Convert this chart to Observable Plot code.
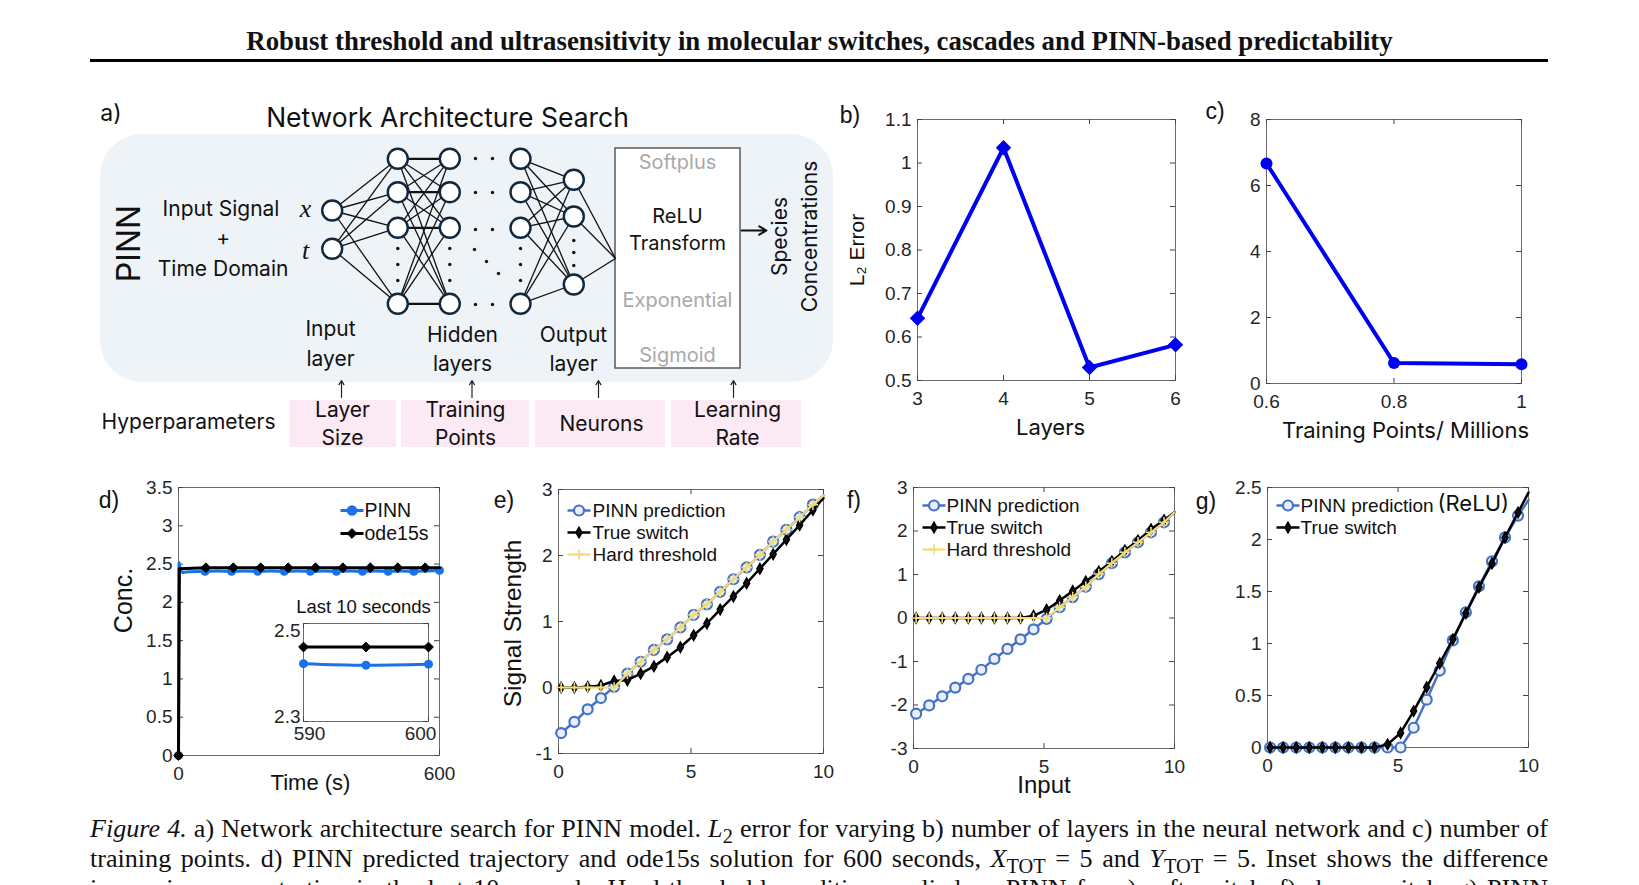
<!DOCTYPE html>
<html><head><meta charset="utf-8">
<script src="https://cdn.jsdelivr.net/npm/d3@7"></script>
<script src="https://cdn.jsdelivr.net/npm/@observablehq/plot@0.6"></script>
<style>
html,body{margin:0;padding:0;background:#fff;overflow:hidden;}
#fig{position:relative;width:1639px;height:885px;overflow:hidden;background:#fff;}
.abs{position:absolute;white-space:nowrap;line-height:1;}
.cap{position:absolute;left:90px;width:1458px;font-family:"Liberation Serif","Times New Roman",serif;color:#111;text-align:justify;text-align-last:justify;white-space:nowrap;line-height:30px;}
.cap sub{font-size:0.78em;line-height:0;}
.measure{position:absolute;visibility:hidden;white-space:nowrap;left:0;top:0;}
</style></head><body><div id="fig"></div>
<script>
// ---------------- data ----------------
// b) L2 error vs number of layers
const layerCount = [3, 4, 5, 6];
const layerL2Error = [0.643, 1.035, 0.530, 0.582];
// c) L2 error vs training points (millions)
const trainingPoints = [0.6, 0.8, 1.0];
const trainingL2Error = [6.67, 0.62, 0.58];
// d) trajectory over 600 s
const odeLineT = [0, 2, 63, 126, 189, 252, 315, 378, 441, 504, 567, 600];
const odeLineC = [0, 2.44, 2.452, 2.452, 2.452, 2.452, 2.452, 2.452, 2.452, 2.452, 2.452, 2.452];
const odeMarkT = [0, 63, 126, 189, 252, 315, 378, 441, 504, 567];
const odeMarkC = [0, 2.452, 2.452, 2.452, 2.452, 2.452, 2.452, 2.452, 2.452, 2.452];
const pinnLineT = [0, 1, 4, 10, 25, 61, 91, 122, 152, 182, 212, 243, 273, 303, 333, 363, 393, 423, 452, 482, 511, 541, 570, 600];
const pinnLineC = [0, 2.52, 2.44, 2.39, 2.40, 2.405, 2.41, 2.405, 2.41, 2.405, 2.41, 2.405, 2.41, 2.405, 2.41, 2.405, 2.41, 2.405, 2.41, 2.405, 2.41, 2.405, 2.41, 2.417];
const pinnMarkT = [0, 61, 122, 182, 243, 303, 363, 423, 482, 541, 600];
const pinnMarkC = [0, 2.405, 2.405, 2.405, 2.405, 2.405, 2.405, 2.405, 2.405, 2.405, 2.417];
// d) inset: last 10 seconds
const insetT = [590, 595, 600];
const insetOde = [2.452, 2.452, 2.452];
const insetPinn = [2.418, 2.415, 2.417];
// e), f), g) switch responses (last point = end of line, no marker)
const switchInput = [0.1, 0.6, 1.1, 1.6, 2.1, 2.6, 3.1, 3.6, 4.1, 4.6, 5.1, 5.6, 6.1, 6.6, 7.1, 7.6, 8.1, 8.6, 9.1, 9.6, 10];
const softPinn = [-0.69, -0.52, -0.33, -0.16, 0.01, 0.21, 0.39, 0.57, 0.73, 0.91, 1.10, 1.26, 1.45, 1.64, 1.82, 2.01, 2.21, 2.39, 2.58, 2.77, 2.91];
const softTrue = [0.00, 0.00, 0.01, 0.03, 0.10, 0.11, 0.21, 0.32, 0.46, 0.61, 0.79, 0.97, 1.18, 1.38, 1.58, 1.80, 2.02, 2.24, 2.46, 2.69, 2.87];
const softHard = [0, 0, 0, 0, 0, 0.21, 0.39, 0.57, 0.73, 0.91, 1.10, 1.26, 1.45, 1.64, 1.82, 2.01, 2.21, 2.39, 2.58, 2.77, 2.91];
const sharpPinn = [-2.20, -2.01, -1.80, -1.60, -1.40, -1.19, -0.94, -0.71, -0.49, -0.26, -0.02, 0.25, 0.48, 0.72, 1.01, 1.26, 1.51, 1.74, 1.97, 2.20, 2.43];
const sharpTrue = [0, 0, 0, 0, 0, 0, 0, 0, 0, 0.05, 0.19, 0.40, 0.62, 0.84, 1.07, 1.30, 1.55, 1.78, 2.04, 2.25, 2.43];
const sharpHard = [0, 0, 0, 0, 0, 0, 0, 0, 0, 0, 0, 0.25, 0.48, 0.72, 1.01, 1.26, 1.51, 1.74, 1.97, 2.20, 2.43];
const reluPinn = [0, 0, 0, 0, 0, 0, 0, 0, 0, 0, 0, 0.19, 0.46, 0.74, 1.03, 1.30, 1.55, 1.79, 2.02, 2.23, 2.38];
const reluTrue = [0, 0, 0, 0, 0, 0, 0, 0, 0, 0.03, 0.14, 0.35, 0.58, 0.81, 1.04, 1.29, 1.54, 1.77, 2.02, 2.26, 2.45];
// tick labels
const bXTicks = [3, 4, 5, 6], bYTicks = [0.5, 0.6, 0.7, 0.8, 0.9, 1, 1.1];
const cXTicks = [0.6, 0.8, 1], cYTicks = [0, 2, 4, 6, 8];
const dXTicks = [0, 600], dYTicks = [0, 0.5, 1, 1.5, 2, 2.5, 3, 3.5];
const eYTicks = [-1, 0, 1, 2, 3], fYTicks = [-3, -2, -1, 0, 1, 2, 3], gYTicks = [0, 0.5, 1, 1.5, 2, 2.5];
const inputTicks = [0, 5, 10];

// ---------------- diagram layout (schematic, panel a) ----------------
const netLayers = [
  {x: 331.7, y: [210, 248.3]},
  {x: 397.3, y: [158.3, 191.7, 227.3, 303.3]},
  {x: 449.3, y: [158.3, 191.7, 227.3, 303.3]},
  {x: 520, y: [158.3, 191.7, 227.3, 303.3]},
  {x: 573.3, y: [179.3, 216, 284]}
];
const netConnections = [[0, 1], [1, 2], [3, 4]];
const netOutlet = {x: 615, y: 258};
const netEllipsis = [
  [397.3,248],[397.3,264],[397.3,280],[449.3,248],[449.3,264],[449.3,280],
  [520,248],[520,264],[520,280],[573.3,240],[573.3,252],[573.3,265],
  [475,158],[492,158],[475,192],[492,192],[475,229],[492,229],[475,304],[492,304],
  [474,249],[486,261],[498,273]
];

const fig = document.getElementById("fig");
const SANS = "'Liberation Sans', Arial, sans-serif";
const APTOS = "Inter, 'Noto Sans', sans-serif";
const SERIF = "'Liberation Serif','Times New Roman',serif";
const fmt = d => String(d);

function put(el, left, top) {
  el.style.position = "absolute"; el.style.left = left + "px"; el.style.top = top + "px";
  el.style.maxWidth = "none"; el.style.background = "transparent"; el.style.overflow = "visible";
  fig.appendChild(el);
}
function label(html, cx, cy, o = {}) {
  const d = document.createElement("div");
  d.className = "abs"; d.innerHTML = html;
  d.style.left = cx + "px"; d.style.top = cy + "px";
  d.style.transform = `translate(-50%,-50%) rotate(${o.rotate || 0}deg)`;
  d.style.fontFamily = o.family || SANS; d.style.fontSize = (o.size || 23) + "px";
  d.style.fontWeight = o.weight || 400; d.style.color = o.color || "#111";
  fig.appendChild(d); return d;
}
function fitSize(html, family, weight, target) {
  const s = document.createElement("span");
  s.className = "measure"; s.innerHTML = html;
  s.style.fontFamily = family; s.style.fontWeight = weight; s.style.fontSize = "100px";
  document.body.appendChild(s);
  const w = s.getBoundingClientRect().width;
  s.remove();
  return 100 * target / w;
}

// custom legend line symbol
const lineSym = {draw(ctx) { ctx.moveTo(-11.5, 0); ctx.lineTo(11.5, 0); }};
function legend(items, {dxLine, dxText, dy0, step, fontSize = 19}) {
  const marks = [];
  items.forEach((it, i) => {
    const dy = dy0 + i * step;
    marks.push(Plot.dot([0], {x: null, y: null, frameAnchor: "top-left", dx: dxLine, dy, symbol: lineSym, stroke: it.stroke, strokeWidth: it.lw, fill: "none"}));
    marks.push(Plot.dot([0], {x: null, y: null, frameAnchor: "top-left", dx: dxLine, dy, symbol: it.symbol, r: it.r, fill: it.fill, stroke: it.mstroke || it.stroke, strokeWidth: it.msw || 1.5}));
    marks.push(Plot.text([it.label], {x: null, y: null, text: d => d, frameAnchor: "top-left", dx: dxText, dy, textAnchor: "start", lineAnchor: "middle", fontSize, fill: "#111"}));
  });
  return marks;
}

function chart(frame, o) {
  const [x0, y0, x1, y1] = frame;
  const w = x1 - x0, h = y1 - y0;
  const ml = 90, mr = 50, mt = 50, mb = 60;
  const marks = [
    Plot.frame({fill: o.fillFrame || "none", stroke: "#6b6b6b", strokeWidth: 1}),
    Plot.tickX(o.xTicks, {x: d => d, insetTop: h - 5, stroke: "#444"}),
    Plot.tickX(o.xTicks, {x: d => d, insetBottom: h - 5, stroke: "#444"}),
    Plot.tickY(o.yTicks, {y: d => d, insetRight: w - 5, stroke: "#444"}),
    Plot.tickY(o.yTicks, {y: d => d, insetLeft: w - 5, stroke: "#444"}),
    o.noXLabels ? null : Plot.axisX({ticks: o.xTicks, tickSize: 0, tickPadding: 11, tickFormat: fmt, label: null, fontSize: 19}),
    o.noYLabels ? null : Plot.axisY({ticks: o.yTicks, tickSize: 0, tickPadding: 6, tickFormat: fmt, label: null, fontSize: 19}),
    ...o.marks
  ];
  const svg = Plot.plot({
    width: w + ml + mr, height: h + mt + mb,
    marginLeft: ml, marginRight: mr, marginTop: mt, marginBottom: mb,
    x: {domain: o.x, label: null, axis: null}, y: {domain: o.y, label: null, axis: null},
    style: {fontFamily: SANS, fontSize: "19px", color: "#262626"},
    marks
  });
  put(svg, x0 - ml, y0 - mt);
  return svg;
}
const rows = (xs, ys) => xs.map((x, i) => ({x, y: ys[i]}));
const markerRows = (xs, ys) => rows(xs, ys).slice(0, -1);
const axisTitle = (t, o) => Plot.text([t], {x: null, y: null, text: d => d, textAnchor: "middle", lineAnchor: "middle", fill: "#111", ...o});

// ---------------- panel a: network diagram ----------------
const nodes = netLayers.flatMap((L, li) => L.y.map(y => ({x: L.x, y, li})));
const links = [];
netConnections.forEach(([a, b]) => netLayers[a].y.forEach(ya => netLayers[b].y.forEach(yb =>
  links.push({x1: netLayers[a].x, y1: ya, x2: netLayers[b].x, y2: yb, w: ya === yb && a === 1 ? 2.2 : 1.3}))));
netLayers[4].y.forEach(y => links.push({x1: netLayers[4].x, y1: y, x2: netOutlet.x, y2: netOutlet.y, w: 1.3}));

const blackTexts = [
  {t: "Network Architecture Search", x: 447, y: 118, s: 26.5},
  {t: "Input Signal", x: 220.5, y: 209, s: 21},
  {t: "+", x: 222.6, y: 238, s: 21},
  {t: "Time Domain", x: 222.6, y: 268.6, s: 21},
  {t: "ReLU", x: 677, y: 216, s: 20}, {t: "Transform", x: 677, y: 243.5, s: 20},
  {t: "Input", x: 330, y: 329, s: 21}, {t: "layer", x: 330, y: 358.5, s: 21},
  {t: "Hidden", x: 462, y: 334.5, s: 21}, {t: "layers", x: 462, y: 364, s: 21},
  {t: "Output", x: 573, y: 334.5, s: 21}, {t: "layer", x: 573, y: 364, s: 21},
  {t: "Hyperparameters", x: 188, y: 422, s: 21},
  {t: "Layer", x: 342, y: 410, s: 21}, {t: "Size", x: 342, y: 438, s: 21},
  {t: "Training", x: 465, y: 410, s: 21}, {t: "Points", x: 465, y: 438, s: 21},
  {t: "Neurons", x: 601, y: 424, s: 21},
  {t: "Learning", x: 737, y: 410, s: 21}, {t: "Rate", x: 737, y: 438, s: 21}
];
const grayTexts = [
  {t: "Softplus", x: 677, y: 162}, {t: "Exponential", x: 677, y: 300}, {t: "Sigmoid", x: 677, y: 355.5}
];
const rotTexts = [
  {t: "PINN", x: 129, y: 243, s: 32},
  {t: "Species", x: 780, y: 236, s: 21},
  {t: "Concentrations", x: 810, y: 236, s: 21}
];
const varTexts = [{t: "x", x: 305, y: 208}, {t: "t", x: 305, y: 250}];
const hyperBoxes = [
  {x1: 289.5, x2: 396, y1: 400, y2: 447}, {x1: 401, x2: 529, y1: 400, y2: 447},
  {x1: 535, x2: 665, y1: 400, y2: 447}, {x1: 671, x2: 801, y1: 400, y2: 447}
];
const upArrows = [341, 471.5, 598, 733].map(x => ({x1: x, y1: 397, x2: x, y2: 380}));

const diagram = Plot.plot({
  width: 760, height: 380, margin: 0,
  x: {domain: [90, 850], axis: null}, y: {domain: [465, 85], axis: null},
  style: {fontFamily: APTOS, color: "#111"},
  marks: [
    Plot.rect([{x1: 100, x2: 833, y1: 134, y2: 382}], {x1: "x1", x2: "x2", y1: "y1", y2: "y2", fill: "#eef3f8", rx: 42, ry: 42}),
    Plot.rect(hyperBoxes, {x1: "x1", x2: "x2", y1: "y1", y2: "y2", fill: "#fbe9f3"}),
    Plot.rect([{x1: 615, x2: 740, y1: 148, y2: 368}], {x1: "x1", x2: "x2", y1: "y1", y2: "y2", fill: "white", stroke: "#5a5a5a", strokeWidth: 1.5}),
    Plot.link(links, {x1: "x1", y1: "y1", x2: "x2", y2: "y2", stroke: "#111", strokeWidth: "w"}),
    Plot.dot(nodes, {x: "x", y: "y", r: 10, fill: "white", stroke: "#10283f", strokeWidth: 2.4}),
    Plot.dot(netEllipsis, {x: d => d[0], y: d => d[1], r: 1.7, fill: "#111"}),
    Plot.arrow(upArrows, {x1: "x1", y1: "y1", x2: "x2", y2: "y2", stroke: "#222", strokeWidth: 1.2, headLength: 6}),
    Plot.arrow([{x1: 741, y1: 230, x2: 766, y2: 230}], {x1: "x1", y1: "y1", x2: "x2", y2: "y2", stroke: "#111", strokeWidth: 2, headLength: 8}),
    Plot.text(blackTexts, {x: "x", y: "y", text: "t", fontSize: "s", fill: "#111"}),
    Plot.text(grayTexts, {x: "x", y: "y", text: "t", fontSize: 20, fill: "#a9a9a9"}),
    Plot.text(rotTexts, {x: "x", y: "y", text: "t", fontSize: "s", rotate: -90, fill: "#111"}),
    Plot.text(varTexts, {x: "x", y: "y", text: "t", fontSize: 26, fontStyle: "italic", fontFamily: SERIF, fill: "#111"})
  ]
});
put(diagram, 90, 85);

// ---------------- panel b ----------------
const bData = rows(layerCount, layerL2Error);
chart([917, 119, 1175, 380], {
  x: [3, 6], y: [0.5, 1.1], xTicks: bXTicks, yTicks: bYTicks,
  marks: [
    Plot.line(bData, {x: "x", y: "y", stroke: "#0000f0", strokeWidth: 4}),
    Plot.dot(bData, {x: "x", y: "y", symbol: "diamond2", r: 6, fill: "#0000f0", stroke: "#0000f0", strokeWidth: 1.5}),
    axisTitle("L₂ Error", {frameAnchor: "left", dx: -60, rotate: -90, fontSize: 21}),
    axisTitle("Layers", {frameAnchor: "bottom", dx: 4, dy: 47, fontSize: 22, fontFamily: APTOS})
  ]
});

// ---------------- panel c ----------------
const cData = rows(trainingPoints, trainingL2Error);
chart([1266, 119, 1521, 383], {
  x: [0.6, 1], y: [0, 8], xTicks: cXTicks, yTicks: cYTicks,
  marks: [
    Plot.line(cData, {x: "x", y: "y", stroke: "#0000f0", strokeWidth: 4}),
    Plot.dot(cData, {x: "x", y: "y", r: 6, fill: "#0000f0"}),
    axisTitle("Training Points/ Millions", {frameAnchor: "bottom", dx: 11.5, dy: 47, fontSize: 22, fontFamily: APTOS})
  ]
});

// ---------------- panel d ----------------
const dBlue = "#1a72ea";
chart([178, 487, 439, 755], {
  x: [0, 600], y: [0, 3.5], xTicks: dXTicks, yTicks: dYTicks,
  marks: [
    Plot.line(rows(pinnLineT, pinnLineC), {x: "x", y: "y", stroke: dBlue, strokeWidth: 3, curve: "monotone-x"}),
    Plot.dot(rows(pinnMarkT, pinnMarkC), {x: "x", y: "y", r: 4.5, fill: dBlue}),
    Plot.line(rows(odeLineT, odeLineC), {x: "x", y: "y", stroke: "#000", strokeWidth: 3}),
    Plot.dot(rows(odeMarkT, odeMarkC), {x: "x", y: "y", symbol: "diamond2", r: 4.4, fill: "#000", stroke: "#000", strokeWidth: 1}),
    ...legend([
      {label: "PINN", stroke: dBlue, lw: 3, symbol: "circle", r: 4.5, fill: dBlue, msw: 0},
      {label: "ode15s", stroke: "#000", lw: 3, symbol: "diamond2", r: 4.4, fill: "#000", msw: 1}
    ], {dxLine: 173.5, dxText: 186, dy0: 23, step: 23, fontSize: 19.5}),
    axisTitle("Conc.", {frameAnchor: "left", dx: -55, dy: -21, rotate: -90, fontSize: 25}),
    axisTitle("Time (s)", {frameAnchor: "bottom", dx: 1.5, dy: 27, fontSize: 22})
  ]
});
// inset
chart([303, 623, 428, 721], {
  x: [590, 600], y: [2.3, 2.5], xTicks: [590, 600], yTicks: [2.3, 2.5], noXLabels: true, noYLabels: true, fillFrame: "white",
  marks: [
    Plot.line(rows(insetT, insetPinn), {x: "x", y: "y", stroke: dBlue, strokeWidth: 3, curve: "monotone-x"}),
    Plot.dot(rows(insetT, insetPinn), {x: "x", y: "y", r: 4.5, fill: dBlue}),
    Plot.line(rows(insetT, insetOde), {x: "x", y: "y", stroke: "#000", strokeWidth: 3}),
    Plot.dot(rows(insetT, insetOde), {x: "x", y: "y", symbol: "diamond2", r: 4.4, fill: "#000", stroke: "#000", strokeWidth: 1}),
    Plot.text([590], {x: d => d, frameAnchor: "bottom", dx: 6, dy: 12, text: fmt, lineAnchor: "middle", fontSize: 19, fill: "#262626"}),
    Plot.text([600], {x: d => d, frameAnchor: "bottom", dx: -8, dy: 12, text: fmt, lineAnchor: "middle", fontSize: 19, fill: "#262626"}),
    Plot.text([2.5], {y: d => d, frameAnchor: "left", dx: -3, dy: 7, text: fmt, textAnchor: "end", lineAnchor: "middle", fontSize: 19, fill: "#262626"}),
    Plot.text([2.3], {y: d => d, frameAnchor: "left", dx: -3, dy: -5, text: fmt, textAnchor: "end", lineAnchor: "middle", fontSize: 19, fill: "#262626"}),
    axisTitle("Last 10 seconds", {frameAnchor: "top", dx: -2.5, dy: -16, fontSize: 18.5})
  ]
});

// ---------------- panels e, f, g ----------------
const eBlue = "#4472c4", yellow = "#f1db7a";
function switchMarks(pinn, truth, hard) {
  const m = [
    Plot.line(rows(switchInput, pinn), {x: "x", y: "y", stroke: eBlue, strokeWidth: 2.5}),
    Plot.dot(markerRows(switchInput, pinn), {x: "x", y: "y", r: 5, fill: "#e9eef8", stroke: eBlue, strokeWidth: 2.2}),
    Plot.line(rows(switchInput, truth), {x: "x", y: "y", stroke: "#000", strokeWidth: 2.5}),
    Plot.dot(markerRows(switchInput, truth), {x: "x", y: "y", symbol: "diamond", r: 3.1, fill: "#111", stroke: "#000", strokeWidth: 1.6})
  ];
  if (hard) {
    m.push(Plot.line(rows(switchInput, hard), {x: "x", y: "y", stroke: yellow, strokeWidth: 2.2}));
    m.push(Plot.dot(markerRows(switchInput, hard), {x: "x", y: "y", symbol: "plus", r: 3.5, stroke: yellow, strokeWidth: 1.6}));
  }
  return m;
}
const legE = [
  {label: "PINN prediction", stroke: eBlue, lw: 2.5, symbol: "circle", r: 5, fill: "#e9eef8", msw: 2.2},
  {label: "True switch", stroke: "#000", lw: 2.5, symbol: "diamond", r: 3.1, fill: "#111", mstroke: "#000", msw: 1.6},
  {label: "Hard threshold", stroke: yellow, lw: 2.2, symbol: "plus", r: 3.5, fill: "none", msw: 1.6}
];
chart([558, 489, 823, 753], {
  x: [0, 10], y: [-1, 3], xTicks: inputTicks, yTicks: eYTicks,
  marks: [
    ...switchMarks(softPinn, softTrue, softHard),
    ...legend(legE, {dxLine: 20.5, dxText: 34, dy0: 21, step: 22, fontSize: 19}),
    axisTitle("Signal Strength", {frameAnchor: "left", dx: -45, dy: 2, rotate: -90, fontSize: 24.5})
  ]
});
chart([913, 487, 1174, 748], {
  x: [0, 10], y: [-3, 3], xTicks: inputTicks, yTicks: fYTicks,
  marks: [
    ...switchMarks(sharpPinn, sharpTrue, sharpHard),
    ...legend(legE, {dxLine: 20.5, dxText: 33, dy0: 18, step: 22, fontSize: 19}),
    axisTitle("Input", {frameAnchor: "bottom", dx: 0, dy: 37, fontSize: 24})
  ]
});
chart([1267, 487, 1528, 747], {
  x: [0, 10], y: [0, 2.5], xTicks: inputTicks, yTicks: gYTicks,
  marks: [
    ...switchMarks(reluPinn, reluTrue, null),
    ...legend(legE.slice(0, 2), {dxLine: 20.5, dxText: 33, dy0: 18, step: 22, fontSize: 19}),
    Plot.text(["(ReLU)"], {x: null, y: null, text: d => d, frameAnchor: "top-left", dx: 170, dy: 16, textAnchor: "start", lineAnchor: "middle", fontSize: 22, fontFamily: APTOS, fill: "#111"})
  ]
});

// ---------------- title, panel letters, caption ----------------
const titleText = "Robust threshold and ultrasensitivity in molecular switches, cascades and PINN-based predictability";
label(titleText, 819.5, 41, {family: SERIF, size: fitSize(titleText, SERIF, 700, 1147), weight: 700});
const rule = document.createElement("div");
Object.assign(rule.style, {position: "absolute", left: "90px", top: "59px", width: "1458px", height: "3px", background: "#000"});
fig.appendChild(rule);
[["a)", 111, 113, APTOS], ["b)", 850, 115, SANS], ["c)", 1215, 111, SANS], ["d)", 109, 500, SANS],
 ["e)", 504, 500, SANS], ["f)", 854, 500, SANS], ["g)", 1206, 501, SANS]]
  .forEach(([t, x, y, f]) => label(t, x, y, {size: 23, family: f}));
const captionLines = [
  "<i>Figure 4.</i> a) Network architecture search for PINN model. <i>L</i><sub>2</sub> error for varying b) number of layers in the neural network and c) number of",
  "training points. d) PINN predicted trajectory and ode15s solution for 600 seconds, <i>X</i><sub>TOT</sub> = 5 and <i>Y</i><sub>TOT</sub> = 5. Inset shows the difference",
  "in species concentration in the last 10 seconds. Hard threshold condition applied on PINN for e) soft switch, f) sharp switch, g) PINN"
];
const capSize = Math.min(27, fitSize(captionLines[0], SERIF, 400, 1446));
captionLines.forEach((t, i) => {
  const d = document.createElement("div");
  d.className = "cap"; d.innerHTML = t; d.style.top = (814 + i * 30) + "px";
  d.style.fontSize = capSize + "px";
  fig.appendChild(d);
});
</script></body></html>
